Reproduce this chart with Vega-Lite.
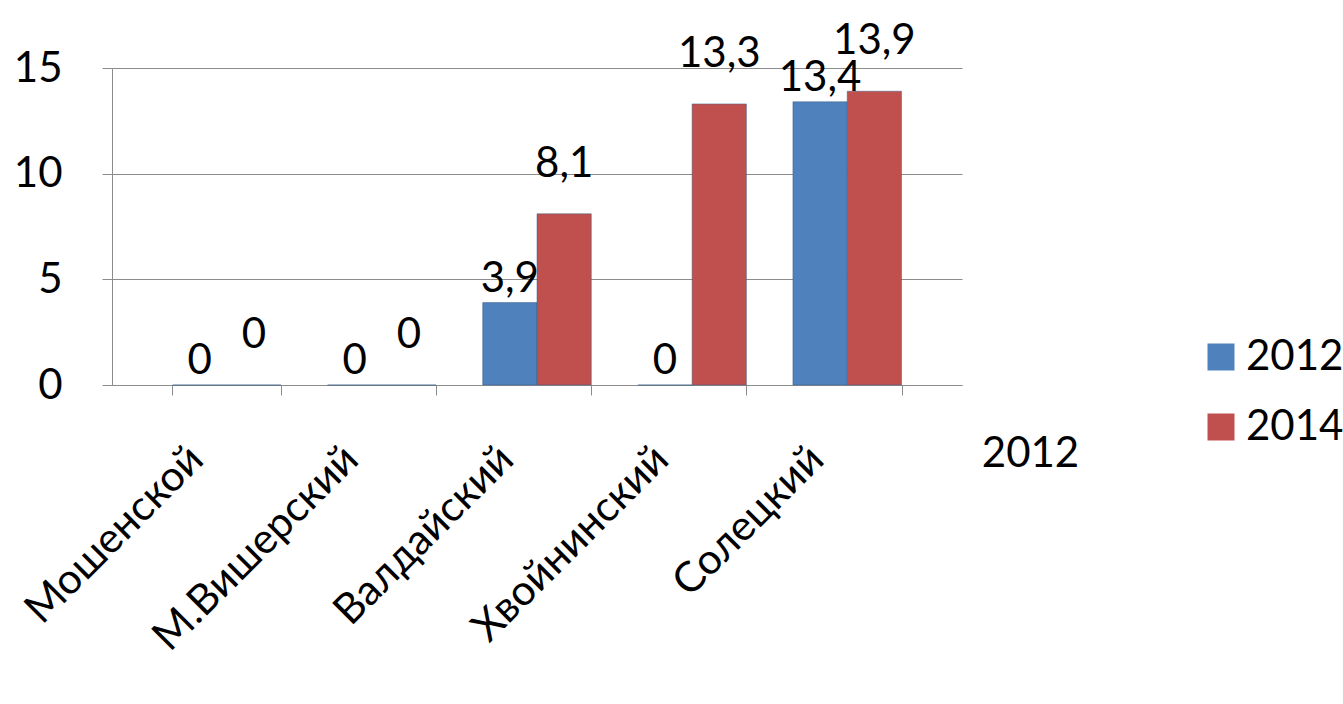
{
  "$schema": "https://vega.github.io/schema/vega-lite/v6.json",
  "width": 850,
  "height": 317,
  "padding": {"left": 13, "top": 20, "right": 10, "bottom": 5},
  "config": {
    "font": "Lato",
    "view": {"stroke": null},
    "locale": {"number": {"decimal": ",", "thousands": " ", "grouping": [3], "currency": ["", " ₽"]}}
  },
  "data": {
    "values": [
      {"district": "Мошенской", "year": "2012", "value": 0},
      {"district": "Мошенской", "year": "2014", "value": 0},
      {"district": "М.Вишерский", "year": "2012", "value": 0},
      {"district": "М.Вишерский", "year": "2014", "value": 0},
      {"district": "Валдайский", "year": "2012", "value": 3.9},
      {"district": "Валдайский", "year": "2014", "value": 8.1},
      {"district": "Хвойнинский", "year": "2012", "value": 0},
      {"district": "Хвойнинский", "year": "2014", "value": 13.3},
      {"district": "Солецкий", "year": "2012", "value": 13.4},
      {"district": "Солецкий", "year": "2014", "value": 13.9}
    ]
  },
  "encoding": {
    "x": {
      "field": "district", "type": "nominal", "sort": null,
      "scale": {"paddingInner": 0.3, "paddingOuter": 0.39},
      "axis": {"title": null, "labelAngle": -45, "labelFontSize": 42, "labelColor": "black", "labelLimit": 0,
               "domainColor": "#8c8c8c", "tickColor": "#8c8c8c", "labelPadding": 43, "tickSize": 10, "labelOffset": -45,
               "tickBand": "extent"}
    },
    "xOffset": {"field": "year", "type": "nominal"},
    "color": {
      "field": "year", "type": "nominal",
      "scale": {"range": ["#4F81BD", "#C0504D"]},
      "legend": {"title": null, "orient": "none", "legendX": 1088, "legendY": 268,
                 "symbolType": "square", "symbolSize": 729, "labelFontSize": 42, "labelColor": "black",
                 "rowPadding": 28, "symbolStrokeWidth": 0}
    }
  },
  "layer": [
    {
      "mark": {"type": "bar", "stroke": "#3a5f8a", "strokeWidth": 0.5},
      "encoding": {
        "y": {"field": "value", "type": "quantitative", "scale": {"domain": [0, 15]},
              "axis": {"values": [0, 5, 10, 15], "title": null, "labelFontSize": 42, "labelColor": "black",
                       "gridColor": "#8c8c8c", "domainColor": "#8c8c8c", "tickColor": "#8c8c8c", "tickSize": 10, "labelPadding": 40}}
      }
    },
    {
      "transform": [{"filter": "datum.year == '2012'"}],
      "mark": {"type": "text", "dy": -24, "fontSize": 42, "color": "black"},
      "encoding": {
        "y": {"field": "value", "type": "quantitative", "scale": {"domain": [0, 15]},
              "axis": {"orient": "right", "labels": false, "ticks": false, "domain": false, "grid": false,
                       "title": "2012", "titleAngle": 0, "titleFontSize": 42, "titleFontWeight": "normal",
                       "titleColor": "black", "titleY": 385, "titleX": 68, "titleAlign": "center", "titleBaseline": "middle"}},
        "text": {"field": "value", "type": "quantitative", "format": ".1~f"},
        "color": {"value": "black"}
      }
    },
    {
      "transform": [{"filter": "datum.year == '2014'"}],
      "mark": {"type": "text", "dy": -50, "fontSize": 42, "color": "black"},
      "encoding": {
        "y": {"field": "value", "type": "quantitative", "scale": {"domain": [0, 15]}, "axis": null},
        "text": {"field": "value", "type": "quantitative", "format": ".1~f"},
        "color": {"value": "black"}
      }
    }
  ],
  "resolve": {"axis": {"y": "independent"}}
}
